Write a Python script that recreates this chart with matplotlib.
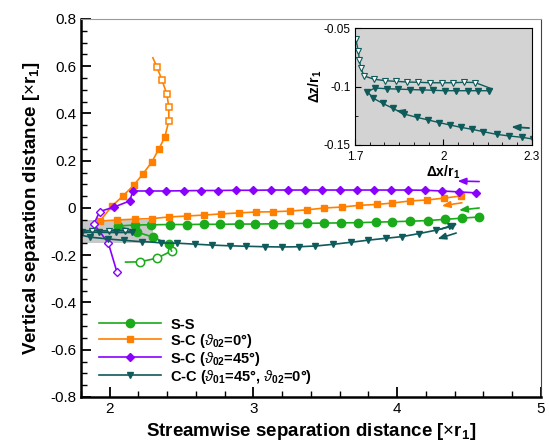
import matplotlib
matplotlib.use("Agg")
import matplotlib.pyplot as plt
from matplotlib.patches import Rectangle
from matplotlib.ticker import MultipleLocator

plt.rcParams['font.family'] = ['Liberation Sans', 'DejaVu Sans']
plt.rcParams['mathtext.fontset'] = 'custom'
plt.rcParams['mathtext.rm'] = 'Liberation Sans'
plt.rcParams['mathtext.bf'] = 'Liberation Sans:bold'
plt.rcParams['mathtext.it'] = 'Liberation Sans:italic'
plt.rcParams['mathtext.fallback'] = 'stix'

#colours
GREEN = '#1aaa1a'
ORANGE = '#ff8000'
PURPLE = '#8a00ff'
TEAL = '#0f5a5a'

#S-S : open part (early) then filled part
ss_x_open = [2.11, 2.21, 2.33, 2.43]
ss_y_open = [-0.229, -0.228, -0.212, -0.182]
ss_x = [2.43, 2.41, 2.30, 2.19, 2.06, 2.175, 2.29, 2.42, 2.536, 2.654, 2.77, 2.897, 3.008,
        3.133, 3.244, 3.37, 3.49, 3.61, 3.73, 3.855, 3.967, 4.09, 4.217, 4.335, 4.45, 4.57]
ss_y = [-0.182, -0.153, -0.123, -0.102, -0.076, -0.072, -0.071, -0.070, -0.070, -0.069, -0.069,
        -0.068, -0.068, -0.067, -0.066, -0.065, -0.064, -0.063, -0.062, -0.060, -0.058, -0.056,
        -0.053, -0.048, -0.043, -0.038]

#S-C theta02=0
sc0_x_open = [2.30, 2.328, 2.363, 2.397, 2.411, 2.411, 2.383]
sc0_y_open = [0.636, 0.597, 0.542, 0.483, 0.428, 0.369, 0.30]
sc0_x = [2.383, 2.342, 2.293, 2.231, 2.168, 2.092, 2.015, 1.932, 2.05, 2.175, 2.293, 2.411,
         2.536, 2.654, 2.772, 2.897, 3.015, 3.133, 3.251, 3.369, 3.494, 3.613, 3.731, 3.856,
         3.967, 4.092, 4.21, 4.328, 4.446]
sc0_y = [0.30, 0.25, 0.195, 0.144, 0.097, 0.051, 0.008, -0.055, -0.051, -0.047, -0.045, -0.038,
         -0.034, -0.030, -0.025, -0.021, -0.017, -0.016, -0.013, -0.008, 0.0, 0.004, 0.011,
         0.015, 0.021, 0.030, 0.034, 0.042, 0.051]

#S-C theta02=45
sc45_x_open = [2.05, 1.99, 1.89, 1.93, 2.03]
sc45_y_open = [-0.271, -0.148, -0.068, -0.015, 0.004]
sc45_x = [2.03, 2.14, 2.16, 2.272, 2.39, 2.515, 2.633, 2.751, 2.876, 2.994, 3.119, 3.238, 3.356,
          3.48, 3.599, 3.717, 3.835, 3.96, 4.078, 4.196, 4.314, 4.432, 4.55]
sc45_y = [0.004, 0.03, 0.072, 0.072, 0.072, 0.073, 0.074, 0.074, 0.075, 0.075, 0.076, 0.076,
          0.076, 0.076, 0.076, 0.076, 0.076, 0.076, 0.076, 0.075, 0.072, 0.068, 0.064]

#C-C detailed (inset) data
cc_x_open = [1.703, 1.711, 1.715, 1.720, 1.731, 1.765, 1.802, 1.839, 1.877, 1.915, 1.954, 1.994,
             2.033, 2.071, 2.107, 2.164]
cc_y_open = [-0.0597, -0.0694, -0.0774, -0.0844, -0.0910, -0.0938, -0.0950, -0.0956, -0.0962,
             -0.0964, -0.0968, -0.0968, -0.0968, -0.0964, -0.0966, -0.1020]
cc_x = [2.164, 2.154, 2.117, 2.082, 2.042, 2.005, 1.964, 1.926, 1.886, 1.845, 1.807, 1.768,
        1.742, 1.762, 1.794, 1.828, 1.866, 1.909, 1.948, 1.986, 2.022, 2.059, 2.097, 2.135,
        2.180, 2.223, 2.265, 2.303]
cc_y = [-0.1020, -0.1036, -0.1036, -0.1036, -0.1036, -0.1036, -0.1032, -0.1029, -0.1026,
        -0.1022, -0.1019, -0.1013, -0.1044, -0.1100, -0.1144, -0.1186, -0.1235, -0.1263,
        -0.1286, -0.1309, -0.1329, -0.1349, -0.1366, -0.1386, -0.1409, -0.1423, -0.1434, -0.1449]
#C-C continuation (main plot only)
cc_x_far = [2.36, 2.47, 2.59, 2.71, 2.835, 2.95, 3.08, 3.196, 3.314, 3.43, 3.55, 3.68, 3.80,
            3.925, 4.036, 4.154, 4.27, 4.383]
cc_y_far = [-0.148, -0.149, -0.153, -0.157, -0.160, -0.162, -0.164, -0.165, -0.164, -0.161,
            -0.154, -0.145, -0.136, -0.128, -0.121, -0.108, -0.094, -0.077]

fig = plt.figure(figsize=(5.49, 4.46), dpi=100)
ax = fig.add_axes([0.1475, 0.1099, 0.8379, 0.8475])

lw = 1.2
#S-S
ax.plot(ss_x_open, ss_y_open, color=GREEN, lw=lw, marker='o', ms=6, mfc='white', mew=1.1,
        markevery=list(range(1, len(ss_x_open))))
ax.plot(ss_x, ss_y, color=GREEN, lw=lw, marker='o', ms=6, markevery=list(range(1, len(ss_x))), label='S-S')
#S-C 0
ax.plot(sc0_x_open, sc0_y_open, color=ORANGE, lw=lw, marker='s', ms=4.5, mfc='white', mew=1.1,
        markevery=list(range(1, len(sc0_x_open) - 1)))
ax.plot(sc0_x, sc0_y, color=ORANGE, lw=lw, marker='s', ms=4.2, label=r'S-C ($\vartheta_{\mathbf{02}}$=0°)')
#S-C 45
ax.plot(sc45_x_open, sc45_y_open, color=PURPLE, lw=lw, marker='D', ms=4.5, mfc='white', mew=1.0,
        markevery=list(range(0, len(sc45_x_open) - 1)))
ax.plot(sc45_x, sc45_y, color=PURPLE, lw=lw, marker='D', ms=4.5, label=r'S-C ($\vartheta_{\mathbf{02}}$=45°)')
#C-C
ax.plot(cc_x_open, cc_y_open, color=TEAL, lw=lw, marker='v', ms=4.5, mfc='white', mew=0.9,
        markevery=list(range(2, len(cc_x_open) - 1, 3)))
cc_all_x = cc_x + cc_x_far
cc_all_y = cc_y + cc_y_far
cc_marks = list(range(1, len(cc_x), 3)) + list(range(len(cc_x), len(cc_all_x)))
ax.plot(cc_all_x, cc_all_y, color=TEAL, lw=lw, marker='v', ms=4.5, markevery=cc_marks,
        label=r'C-C ($\vartheta_{\mathbf{01}}$=45°, $\vartheta_{\mathbf{02}}$=0°)')

#region shown in inset
ax.add_patch(Rectangle((1.7, -0.15), 0.6, 0.1, facecolor='#c8c8c8', edgecolor='none', zorder=0))

#direction arrows
def arrow(a, x0, y0, x1, y1, c, lw=1.2):
    a.annotate('', xy=(x1, y1), xytext=(x0, y0),
               arrowprops=dict(arrowstyle='-|>,head_length=0.5,head_width=0.2', color=c, lw=lw,
                               shrinkA=0, shrinkB=0))

arrow(ax, 4.57, 0.112, 4.42, 0.114, PURPLE)
arrow(ax, 4.45, 0.022, 4.31, 0.009, ORANGE)
arrow(ax, 4.57, 0.0, 4.43, -0.009, GREEN)
arrow(ax, 4.30, -0.090, 4.42, -0.066, TEAL)
arrow(ax, 4.41, -0.106, 4.28, -0.131, TEAL)

ax.set_xlim(1.8, 5)
ax.set_ylim(-0.8, 0.8)
ax.xaxis.set_major_locator(MultipleLocator(1))
ax.xaxis.set_minor_locator(MultipleLocator(0.2))
ax.yaxis.set_major_locator(MultipleLocator(0.2))
ax.yaxis.set_minor_locator(MultipleLocator(0.05))
ax.set_yticks([0.8, 0.6, 0.4, 0.2, 0, -0.2, -0.4, -0.6, -0.8])
ax.set_yticklabels(['0.8', '0.6', '0.4', '0.2', '0', '-0.2', '-0.4', '-0.6', '-0.8'])
ax.tick_params(which='both', direction='in', labelsize=11, top=False, right=False)
ax.tick_params(which='major', length=7, width=1.3)
ax.tick_params(which='minor', length=4, width=1.0)
for s in ['left', 'bottom']:
    ax.spines[s].set_linewidth(1.8)
ax.spines['top'].set_color('#9a9a9a')
ax.spines['right'].set_color('#444444')
ax.set_xlabel(r'Streamwise separation distance [$\times$$\mathbf{r_1}$]', fontsize=13.5,
              fontweight='bold', labelpad=4)
ax.set_ylabel(r'Vertical separation distance [$\times$$\mathbf{r_1}$]', fontsize=13.5,
              fontweight='bold', labelpad=6)

leg = ax.legend(loc='upper left', bbox_to_anchor=(0.01, 0.245), frameon=False,
                prop={'weight': 'bold', 'size': 10.5}, handlelength=4.3, labelspacing=0.0,
                handletextpad=0.6)

#inset
ins = fig.add_axes([0.6466, 0.6749, 0.3224, 0.2623])
ins.set_facecolor('#d3d3d3')
ins.plot(cc_x_open, cc_y_open, color=TEAL, lw=1.0, marker='v', ms=3.8, mfc='white', mew=0.8,
         markevery=list(range(0, len(cc_x_open) - 1)))
ins.plot(cc_x, cc_y, color=TEAL, lw=1.0, marker='v', ms=3.8, markevery=list(range(1, len(cc_x))))
ins.plot([cc_x[-1], 2.32], [cc_y[-1], -0.1455], color=TEAL, lw=1.0)
arrow(ins, 2.29, -0.1355, 2.23, -0.1345, TEAL, lw=1.3)
arrow(ins, 1.875, -0.1225, 1.84, -0.1205, TEAL, lw=1.0)
ins.set_xlim(1.7, 2.3)
ins.set_ylim(-0.15, -0.05)
ins.set_xticks([1.7, 2, 2.3])
ins.set_xticklabels(['1.7', '2', '2.3'])
ins.set_yticks([-0.15, -0.1, -0.05])
ins.set_yticklabels(['-0.15', '-0.1', '-0.05'])
ins.xaxis.set_minor_locator(MultipleLocator(0.05))
ins.yaxis.set_minor_locator(MultipleLocator(0.025))
ins.tick_params(which='both', direction='in', labelsize=8.5, top=False, right=False)
ins.tick_params(axis='x', pad=4)
ins.tick_params(axis='y', pad=3)
ins.tick_params(which='major', length=4)
ins.tick_params(which='minor', length=2.5)
ins.set_xlabel(r'$\mathbf{\Delta x/r_1}$', fontsize=10, labelpad=1)
ins.set_ylabel(r'$\mathbf{\Delta z/r_1}$', fontsize=10, labelpad=0)

fig.savefig('out.png', dpi=100)
